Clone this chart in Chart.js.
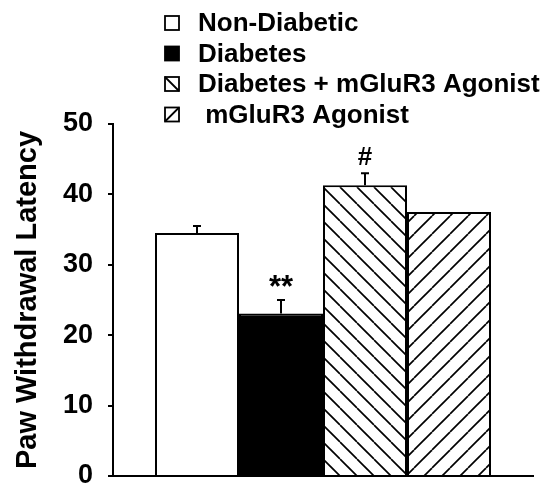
<!DOCTYPE html>
<html>
<head>
<meta charset="utf-8">
<script src="https://cdn.jsdelivr.net/npm/chart.js@4"></script>
<style>
  html, body { margin: 0; padding: 0; background: #fff; }
  #wrap { width: 546px; height: 487px; }
</style>
</head>
<body>
<div id="wrap"><canvas id="chart" width="546" height="487"></canvas></div>
<script>
/* Paw withdrawal latency bar chart. */
const groups = ['Non-Diabetic', 'Diabetes', 'Diabetes + mGluR3 Agonist', ' mGluR3 Agonist'];
const means = [34.5, 23.1, 41.3, 37.5];
const errors = [1.0, 1.9, 1.7, 0];
const marks = ['', '**', '#', ''];
const yTicks = [0, 10, 20, 30, 40, 50];

const FONT = 'Liberation Sans, Arial, Helvetica, sans-serif';

function hatch(dir, step) {
    const c = document.createElement('canvas');
    c.width = step; c.height = step;
    const g = c.getContext('2d');
    g.fillStyle = '#fff';
    g.fillRect(0, 0, step, step);
    g.strokeStyle = '#000';
    g.lineWidth = 1.7;
    for (let k = -1; k <= 1; k++) {
        g.beginPath();
        if (dir === '\\') {
            g.moveTo(k * step, 0); g.lineTo(k * step + step, step);
        } else {
            g.moveTo(k * step, step); g.lineTo(k * step + step, 0);
        }
        g.stroke();
    }
    return g.createPattern(c, 'repeat');
}

const ctx = document.getElementById('chart').getContext('2d');
const fills = ['#fff', '#000', hatch('\\', 17), hatch('/', 18)];
const swatch = ['open', 'solid', '\\', '/'];

const errorBars = {
    id: 'errorBars',
    afterDatasetsDraw(chart) {
        const c = chart.ctx, y = chart.scales.y;
        c.save();
        c.strokeStyle = '#000';
        c.fillStyle = '#000';
        c.lineWidth = 2;
        chart.data.datasets.forEach((ds, i) => {
            const bar = chart.getDatasetMeta(i).data[0];
            const top = y.getPixelForValue(means[i] + errors[i]);
            if (errors[i] > 0) {
                c.beginPath();
                c.moveTo(bar.x, bar.y);
                c.lineTo(bar.x, top);
                c.moveTo(bar.x - 4, top);
                c.lineTo(bar.x + 4, top);
                c.stroke();
            }
            if (marks[i]) {
                c.font = 'bold ' + (marks[i] === '**' ? 31 : 26) + 'px ' + FONT;
                c.textAlign = 'center';
                c.textBaseline = 'alphabetic';
                c.fillText(marks[i], bar.x, marks[i] === '**' ? top - 3 : top - 8);
            }
        });
        c.restore();
    },
};

const legendList = {
    id: 'legendList',
    afterDraw(chart) {
        const c = chart.ctx;
        c.save();
        c.font = 'bold 26px ' + FONT;
        c.textBaseline = 'middle';
        c.textAlign = 'left';
        groups.forEach((name, i) => {
            const cy = 23 + i * 30.5;
            const s = 14, bx = 165, by = cy - s / 2;
            c.fillStyle = swatch[i] === 'solid' ? '#000' : '#fff';
            c.fillRect(bx, by, s, s);
            c.strokeStyle = '#000';
            c.lineWidth = 1.8;
            c.strokeRect(bx, by, s, s);
            if (swatch[i] === '\\' || swatch[i] === '/') {
                c.beginPath();
                if (swatch[i] === '\\') { c.moveTo(bx, by); c.lineTo(bx + s, by + s); }
                else { c.moveTo(bx, by + s); c.lineTo(bx + s, by); }
                c.stroke();
            }
            c.fillStyle = '#000';
            c.fillText(name, 198, cy + 1);
        });
        c.restore();
    },
};

new Chart(ctx, {
    type: 'bar',
    data: {
        labels: [''],
        datasets: groups.map((g, i) => ({
            label: g,
            data: [means[i]],
            backgroundColor: fills[i],
            borderColor: '#000',
            borderWidth: 2,
            categoryPercentage: 0.8,
            barPercentage: 1.0,
        })),
    },
    options: {
        responsive: false,
        animation: false,
        layout: { padding: { left: 0, right: 13, top: 124, bottom: 11 } },
        plugins: { legend: { display: false }, tooltip: { enabled: false } },
        scales: {
            x: {
                grid: { display: false },
                border: { color: '#000', width: 2 },
                ticks: { display: false },
                afterFit(s) { s.height = 0; s.paddingLeft = 0; s.paddingRight = 0; },
            },
            y: {
                min: 0, max: 50,
                afterBuildTicks(s) { s.ticks = yTicks.map((v) => ({ value: v })); },
                afterFit(s) { s.width = 113; s.paddingTop = 0; s.paddingBottom = 0; },
                grid: { display: true, drawOnChartArea: false, drawTicks: true,
                        tickLength: 5, color: '#000', lineWidth: 2 },
                border: { color: '#000', width: 2 },
                ticks: { color: '#000', padding: 15,
                         font: { family: FONT, size: 27, weight: 'bold' } },
                title: { display: true, text: 'Paw Withdrawal Latency', color: '#000',
                         padding: { top: 11, bottom: 0 },
                         font: { family: FONT, size: 29, weight: 'bold' } },
            },
        },
    },
    plugins: [errorBars, legendList],
});
</script>
</body>
</html>
